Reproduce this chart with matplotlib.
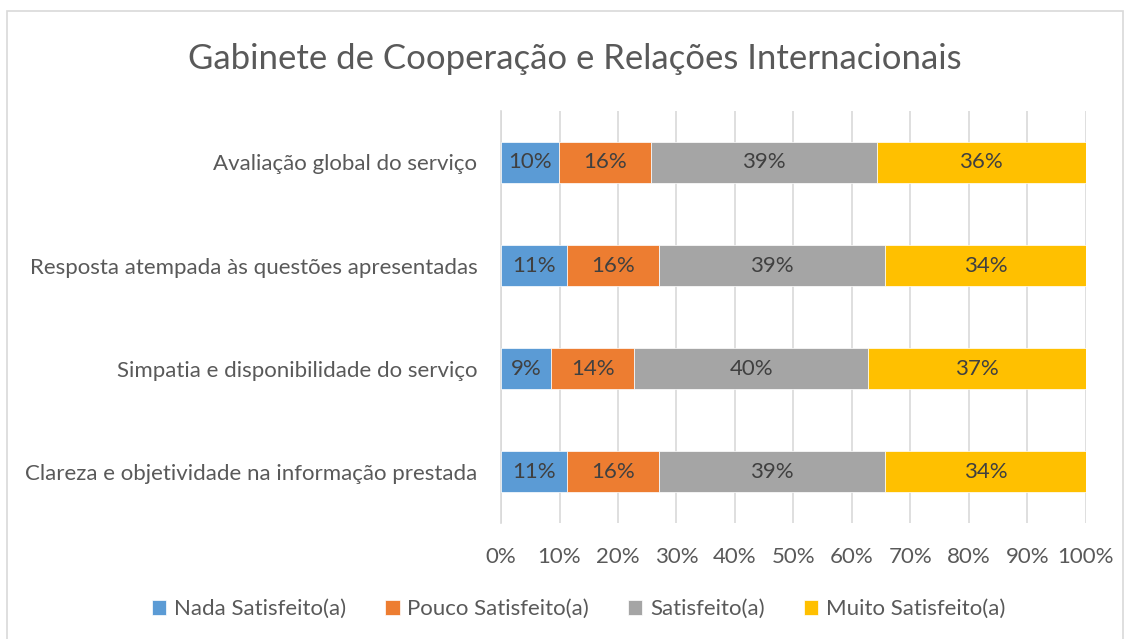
"""Gabinete de Cooperação e Relações Internacionais - satisfaction survey."""

import matplotlib

matplotlib.use("Agg")
import matplotlib.pyplot as plt
import numpy as np
from matplotlib.patches import Rectangle
from matplotlib.ticker import PercentFormatter

plt.rcParams["font.family"] = ["Lato", "DejaVu Sans"]

TITLE = "Gabinete de Cooperação e Relações Internacionais"

# Categories, top to bottom.
categories = [
    "Avaliação global do serviço",
    "Resposta atempada às questões apresentadas",
    "Simpatia e disponibilidade do serviço",
    "Clareza e objetividade na informação prestada",
]

series_names = [
    "Nada Satisfeito(a)",
    "Pouco Satisfeito(a)",
    "Satisfeito(a)",
    "Muito Satisfeito(a)",
]

# Percentages per category (same order as categories).
nada = [9.9, 11.3, 8.6, 11.3]
pouco = [15.8, 15.8, 14.2, 15.8]
satisfeito = [38.6, 38.6, 40.0, 38.6]
muito = [35.7, 34.3, 37.2, 34.3]

colors = ["#5B9BD5", "#ED7D31", "#A5A5A5", "#FFC000"]
TEXT_COLOR = "#595959"
LABEL_COLOR = "#404040"
GRID_COLOR = "#D9D9D9"


def main():
    fig = plt.figure(figsize=(11.3, 6.39), dpi=100)
    ax = fig.add_axes([0.4434, 0.1815, 0.5174, 0.6448])

    y = np.arange(len(categories))
    left = np.zeros(len(categories))
    for name, values, color in zip(series_names,
                                   [nada, pouco, satisfeito, muito], colors):
        values = np.array(values)
        bars = ax.barh(y, values, left=left, height=0.4, color=color,
                       edgecolor="white", linewidth=0.5, label=name,
                       zorder=3)
        labels = [f"{v:.0f}%" for v in values]
        ax.bar_label(bars, labels=labels, label_type="center",
                     color=LABEL_COLOR, fontsize=16)
        left += values

    ax.set_ylim(len(categories) - 0.5, -0.5)
    ax.set_xlim(0, 100)
    ax.set_yticks(y)
    ax.set_yticklabels(categories, fontsize=16, color=TEXT_COLOR)
    ax.set_xticks(np.arange(0, 101, 10))
    ax.xaxis.set_major_formatter(PercentFormatter(decimals=0))
    ax.tick_params(axis="x", labelsize=16, labelcolor=TEXT_COLOR, length=0,
                   pad=17)
    ax.tick_params(axis="y", length=0, pad=17)

    ax.grid(axis="x", color=GRID_COLOR, linewidth=1.2, zorder=0)
    for side in ["top", "right", "bottom"]:
        ax.spines[side].set_visible(False)
    ax.spines["left"].set_color(GRID_COLOR)
    ax.spines["left"].set_linewidth(1.2)
    ax.spines["left"].set_zorder(1)

    fig.text(0.5085, 1 - 59 / 639, TITLE, ha="center", va="center",
             fontsize=25, color=TEXT_COLOR)

    fig.legend(loc="center", bbox_to_anchor=(0.512, 1 - 609 / 639), ncol=4,
               frameon=False, fontsize=16, labelcolor=TEXT_COLOR,
               handlelength=0.65, handleheight=0.65, handletextpad=0.35,
               columnspacing=1.75)

    # Chart area border.
    fig.patches.append(Rectangle((7 / 1130, -0.01), 1116 / 1130,
                                 1 - 11 / 639 + 0.01,
                                 transform=fig.transFigure, fill=False,
                                 edgecolor=GRID_COLOR, linewidth=1.2))

    fig.savefig("out.png", dpi=100, facecolor="white")


if __name__ == "__main__":
    main()
